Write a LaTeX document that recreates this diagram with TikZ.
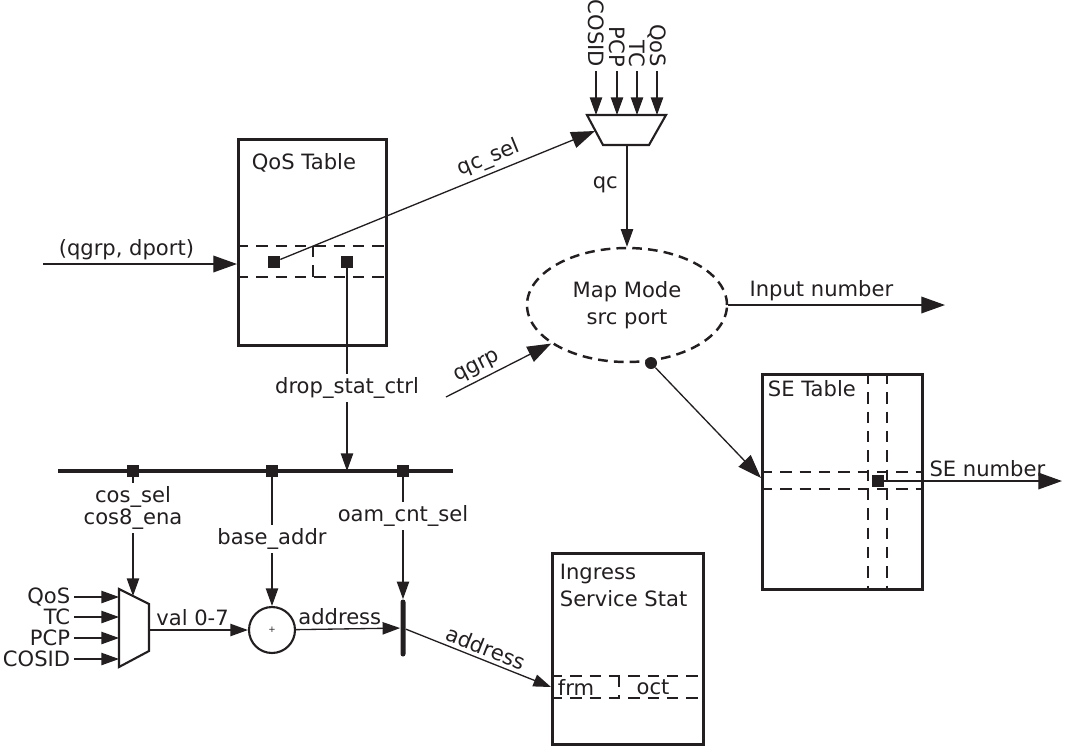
\documentclass[tikz,border=0pt]{standalone}
\usepackage{fontspec}
\setmainfont{DejaVu Sans}
\usepackage{tikz}
\usetikzlibrary{arrows.meta,positioning,shapes.geometric}
\definecolor{ink}{HTML}{231F20}
\newcommand{\sig}{\fontsize{12}{15.3}\selectfont}
\tikzset{
  tablebox/.style={draw=ink, line width=1.6pt, anchor=north west, inner sep=0pt},
  rowline/.style={draw=ink, line width=1.4pt, dash pattern=on 6.5pt off 4.5pt},
  wire/.style={draw=ink, line width=0.75pt},
  arr/.style={wire, -{Triangle[length=10pt,width=7pt]}},
  bigarr/.style={wire, -{Triangle[length=13.5pt,width=9.5pt]}},
  cell/.style={fill=ink, minimum size=0.24cm, inner sep=0pt},
  sig/.style={font=\sig, text=ink, inner sep=2pt},
  brk/.style={sig, fill=white},
  muxbody/.style={draw=ink, line width=1.2pt, line join=miter},
  bus/.style={draw=ink, line width=2.4pt},
}

\begin{document}
\begin{tikzpicture}[x=0.02cm, y=-0.02cm]
  \useasboundingbox (0,0) rectangle (1065,745);

  % tables
  \node[tablebox, minimum width=2.96cm, minimum height=4.12cm] (qos) at (237,138) {};
  \node[sig, anchor=north west] (qostitle) at (248,150) {QoS Table};
  \draw[rowline] (237,246) -- (385,246);
  \draw[rowline] (237,277) -- (385,277);
  \draw[rowline] (313,246) -- (313,277);
  \node[cell] (qsel) at (274,262) {};
  \node[cell] (qdrop) at (347,262) {};

  \node[tablebox, minimum width=3.2cm, minimum height=4.3cm] (se) at (761,373) {};
  \node[sig, anchor=north west] (setitle) at (764,377) {SE Table};
  \draw[rowline] (761,472) -- (921,472);
  \draw[rowline] (761,489) -- (921,489);
  \draw[rowline] (868,373) -- (868,588);
  \draw[rowline] (887,373) -- (887,588);
  \node[cell] (secell) at (878,481) {};

  \node[tablebox, minimum width=3.02cm, minimum height=3.82cm] (ing) at (551,552) {};
  \node[sig, anchor=north west, align=left] (ingtitle) at (556,560) {Ingress\\Service Stat};
  \draw[rowline] (551,676) -- (702,676);
  \draw[rowline] (551,698) -- (702,698);
  \draw[rowline] (619,676) -- (619,698);
  \node[sig] (frm) at (576,687) {frm};
  \node[sig] (oct) at (653,687) {oct};

  % top mux
  \draw[muxbody] (587,115) coordinate (mtopL) -- (666,115) -- (649,145)
    -- (603,145) -- cycle;
  \coordinate (mleft) at (595,131);
  \coordinate (mout) at (627,145);
  \foreach \n/\t/\x in {tcos/COSID/596, tpcp/PCP/617, ttc/TC/637, tqos/QoS/657} {
    \node[sig, rotate=-90, anchor=east] (\n) at (\x,71) {\t};
    \draw[arr] (\n) -- (\n.east |- mtopL);
  }

  % map mode
  \node[ellipse, draw=ink, line width=1.4pt, dash pattern=on 5.5pt off 3.5pt,
    minimum width=4cm, minimum height=2.28cm, sig, align=center] (map) at (627,305)
    {Map Mode\\src port};
  \node[circle, fill=ink, minimum size=0.24cm, inner sep=0pt] (dot) at (651,363) {};

  \coordinate (qin) at (43,264);
  \coordinate (qgrpfrom) at (446,397);
  \coordinate (inout) at (945,305);
  \coordinate (sein) at (761,478);
  \coordinate (seout) at (1062,481);

  \draw[bigarr] (qin) -- node[sig, above, pos=0.43] {(qgrp, dport)} (qos.west |- qin);
  \draw[bigarr] (qsel) -- node[sig, sloped, above, pos=0.68] {qc\_sel} (mleft);
  \draw[arr] (mout) -- node[sig, left=0.1cm, pos=0.39] {qc} (map);
  \draw[bigarr] (qgrpfrom) -- node[sig, sloped, above, pos=0.35] {qgrp} (map);
  \draw[bigarr] (map.east) -- node[sig, above, pos=0.43] {Input number} (inout);
  \draw[bigarr] (dot) -- (sein);
  \draw[bigarr] (secell) -- node[sig, above, pos=0.58] {SE number} (seout);

  % bus
  \draw[bus] (58,471) coordinate (busL) -- (453,471);
  \node[cell] (tap1) at (133,471) {};
  \node[cell] (tap2) at (272,471) {};
  \node[cell] (tap3) at (403,471) {};
  \node[brk] (drop) at (347,388) {drop\_stat\_ctrl};
  \draw[wire] (qdrop) -- (drop);
  \draw[arr] (drop) -- (drop |- busL);

  % bottom mux, adder, bar
  \draw[muxbody] (119,589) -- (149,604) -- (149,651) -- (119,667) -- cycle;
  \coordinate (bmin) at (119,628);
  \coordinate (bmtop) at (133,596);
  \coordinate (bmout) at (149,630);
  \foreach \n/\t/\y in {iqos/QoS/597, itc/TC/617, ipcp/PCP/638, icos/COSID/659} {
    \node[sig, anchor=east] (\n) at (74,\y) {\t};
    \draw[arr] (\n) -- (\n -| bmin);
  }
  \node[circle, draw=ink, line width=1.2pt, minimum size=0.92cm, inner sep=0pt,
    font=\tiny, text=ink] (add) at (272,630) {+};
  \node[fill=ink, minimum width=0.1cm, minimum height=1.14cm, inner sep=0pt,
    rounded corners=0.05cm] (bar) at (403,628) {};
  \coordinate (ingin) at (551,687);

  \node[brk, align=center, font=\fontsize{12}{12.3}\selectfont] (cossel) at (133,508) {cos\_sel\\cos8\_ena};
  \node[brk] (base) at (272,539) {base\_addr};
  \node[brk] (oam) at (403,516) {oam\_cnt\_sel};
  \draw[wire] (tap1) -- (cossel);
  \draw[arr] (cossel) -- (bmtop);
  \draw[wire] (tap2) -- (base);
  \draw[arr] (base) -- (add);
  \draw[wire] (tap3) -- (oam);
  \draw[arr] (oam) -- (bar);

  \draw[arr] (bmout) -- node[sig, above, pos=0.44] {val 0-7} (add);
  \draw[arr] (add) -- node[sig, above, pos=0.42] {address} (bar);
  \draw[arr] (bar) -- node[sig, sloped, above, pos=0.52] {address} (ingin);
\end{tikzpicture}
\end{document}
